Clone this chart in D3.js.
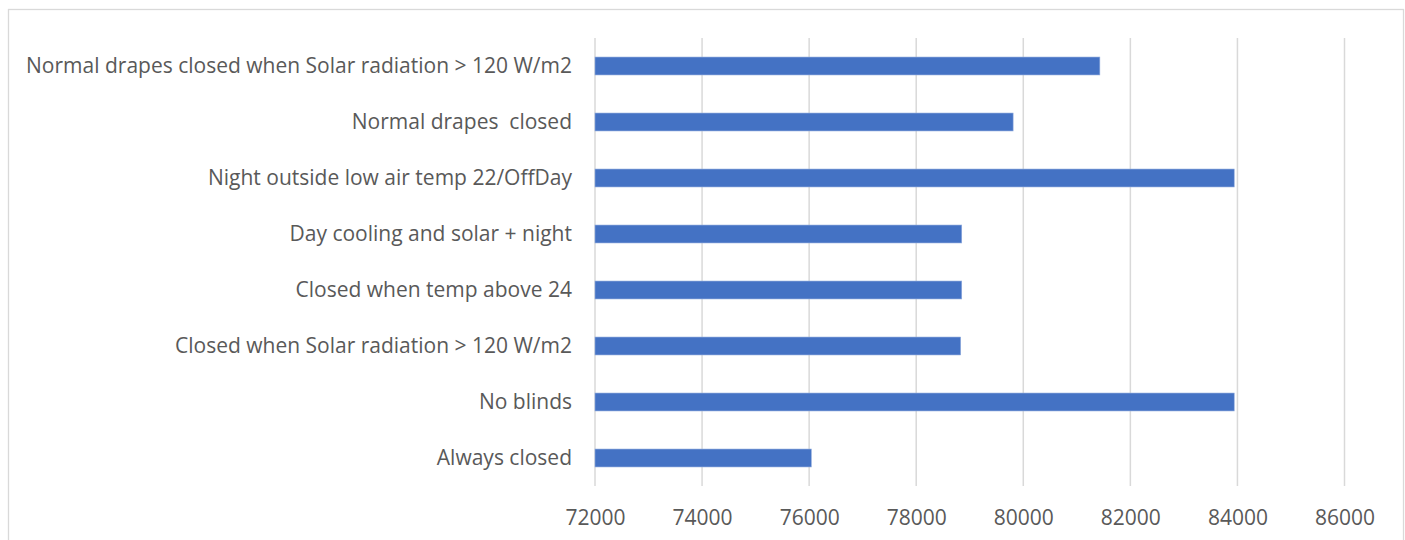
<!DOCTYPE html>
<html>
<head>
<meta charset="utf-8">
<script src="https://cdn.jsdelivr.net/npm/d3@7"></script>
<style>
  body { margin: 0; background: #fff; }
  text { font-family: "Open Sans", sans-serif; fill: #595959; white-space: pre; }
</style>
</head>
<body>
<script>
var categories = [
    "Normal drapes closed when Solar radiation > 120 W/m2",
    "Normal drapes  closed",
    "Night outside low air temp 22/OffDay",
    "Day cooling and solar + night",
    "Closed when temp above 24",
    "Closed when Solar radiation > 120 W/m2",
    "No blinds",
    "Always closed"
];
var values = [81430, 79810, 83940, 78850, 78850, 78830, 83940, 76040];
var xTicks = [72000, 74000, 76000, 78000, 80000, 82000, 84000, 86000];

var W = 1405, H = 540;
var margin = {top: 38, right: 60.5, bottom: 54, left: 595};

var svg = d3.select("body").append("svg")
    .attr("width", W)
    .attr("height", H);

// chart frame
svg.append("rect")
    .attr("x", 8.5).attr("y", 9.5)
    .attr("width", 1395).attr("height", 545)
    .attr("fill", "#fff")
    .attr("stroke", "#d9d9d9")
    .attr("stroke-width", 1.3);

var x = d3.scaleLinear()
    .domain([72000, 86000])
    .range([margin.left, W - margin.right]);

var y = d3.scaleBand()
    .domain(categories)
    .range([margin.top, H - margin.bottom])
    .paddingInner(0.68)
    .paddingOuter(0.34);

// gridlines
svg.append("g")
    .selectAll("line")
    .data(xTicks)
    .join("line")
        .attr("x1", function(d) { return x(d); })
        .attr("x2", function(d) { return x(d); })
        .attr("y1", margin.top)
        .attr("y2", H - margin.bottom)
        .attr("stroke", "#d9d9d9")
        .attr("stroke-width", 1.5);

// bars
svg.append("g")
    .selectAll("rect")
    .data(values)
    .join("rect")
        .attr("x", x(72000))
        .attr("y", function(d, i) { return y(categories[i]); })
        .attr("width", function(d) { return x(d) - x(72000); })
        .attr("height", y.bandwidth())
        .attr("fill", "#4472c4")
        .attr("stroke", "#8faadc")
        .attr("stroke-width", 0.6);

// category labels
var yAxis = d3.axisLeft(y).tickSize(0).tickPadding(23);
svg.append("g")
    .attr("transform", "translate(" + margin.left + ",0)")
    .call(yAxis)
    .call(function(g) { g.select(".domain").remove(); })
    .selectAll("text")
        .style("font-family", "'Open Sans', sans-serif")
        .style("font-size", "21px")
        .style("white-space", "pre")
        .attr("fill", "#595959");

// value axis
var xAxis = d3.axisBottom(x).tickValues(xTicks).tickFormat(d3.format("d")).tickSize(0).tickPadding(24);
svg.append("g")
    .attr("transform", "translate(0," + (H - margin.bottom) + ")")
    .call(xAxis)
    .call(function(g) { g.select(".domain").remove(); })
    .selectAll("text")
        .style("font-family", "'Open Sans', sans-serif")
        .style("font-size", "21px")
        .attr("fill", "#595959");
</script>
</body>
</html>
